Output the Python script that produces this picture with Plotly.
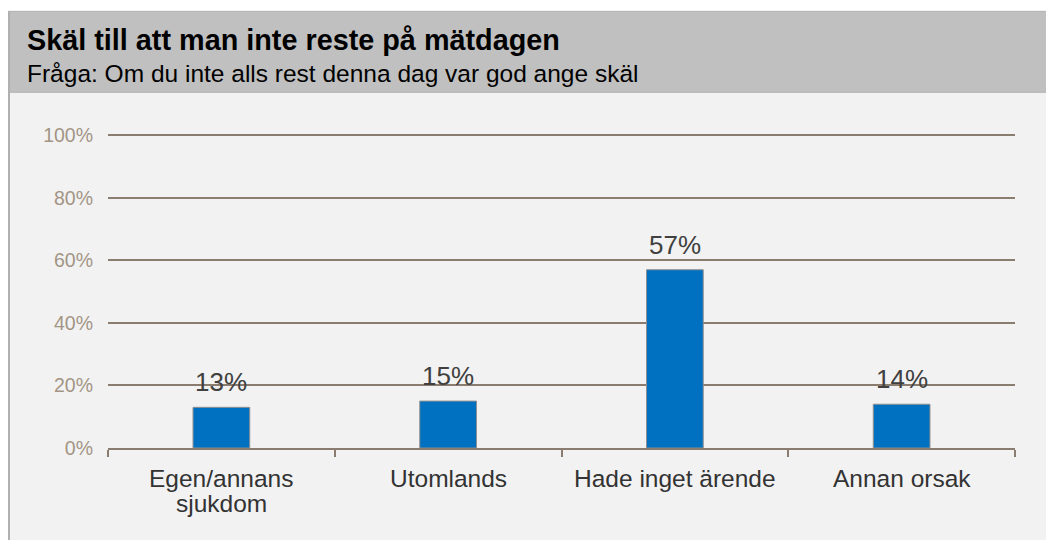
import plotly.graph_objects as go

categories = ["Egen/annans<br>sjukdom", "Utomlands", "Hade inget ärende", "Annan orsak"]
values = [13, 15, 57, 14]
value_labels = ["13%", "15%", "57%", "14%"]
y_ticks = [0, 20, 40, 60, 80, 100]
y_tick_labels = ["0%", "20%", "40%", "60%", "80%", "100%"]

title = "Skäl till att man inte reste på mätdagen"
subtitle = "Fråga: Om du inte alls rest denna dag var god ange skäl"

OFF = 8  # page offset of the figure
W, H = 1046, 532
YMAX = 102
# plot area in screen pixels (0% at SB, 100% at 135)
SL, SR, SB = 108, 1015, 448
unit = (SB - 135) / 100
ST = SB - unit * YMAX
L, R, T, B = SL - OFF, (W + OFF) - SR, ST - OFF, (H + OFF) - SB
pw, ph = SR - SL, SB - ST

def px(x):
    return (x - SL) / pw

def py(y):
    return (SB - y) / ph

GRID = "#8a7c6f"
FONT = "Liberation Sans, Arial, sans-serif"

fig = go.Figure()
fig.add_trace(go.Bar(
    x=categories, y=values, width=0.25,
    marker=dict(color="#0070C0", line=dict(color="#8f8f8f", width=1)),
    hoverinfo="skip",
))

for c, v, t in zip(categories, values, value_labels):
    fig.add_annotation(x=c, y=v, text=t, showarrow=False, yanchor="bottom",
                       yshift=8, font=dict(family=FONT, size=26, color="#404040"))

for c in categories:
    for i, line in enumerate(c.split("<br>")):
        fig.add_annotation(x=c, y=0, text=line, showarrow=False, yanchor="middle",
                           yshift=-(30 + 25 * i),
                           font=dict(family=FONT, size=24.5, color="#333333"))

shapes = [
    dict(type="rect", xref="paper", yref="paper", x0=px(8), x1=px(1060), y0=py(545), y1=py(92),
         fillcolor="#f2f2f2", line=dict(width=0), layer="below"),
    dict(type="rect", xref="paper", yref="paper", x0=px(8), x1=px(1060), y0=py(92), y1=py(11),
         fillcolor="#c0c0c0", line=dict(color="#b2b2b2", width=1), layer="below"),
    dict(type="line", xref="paper", yref="paper", x0=px(9), x1=px(9), y0=py(11), y1=py(545),
         line=dict(color="#b0b0b0", width=2), layer="below"),
]

fig.add_annotation(xref="paper", yref="paper", x=px(25), y=py(40), xanchor="left", yanchor="middle",
                   text="<b>" + title + "</b>", showarrow=False,
                   font=dict(family=FONT, size=28.8, color="#000000"))
fig.add_annotation(xref="paper", yref="paper", x=px(25), y=py(73), xanchor="left", yanchor="middle",
                   text=subtitle, showarrow=False,
                   font=dict(family=FONT, size=24.5, color="#000000"))

fig.update_layout(
    width=W, height=H,
    margin=dict(l=L, r=R, t=T, b=B),
    paper_bgcolor="white", plot_bgcolor="rgba(0,0,0,0)",
    shapes=shapes, showlegend=False, bargap=0.75,
    font=dict(family=FONT),
)
fig.update_xaxes(
    showline=True, linecolor=GRID, linewidth=2,
    ticks="outside", tickson="boundaries", ticklen=7, tickcolor=GRID, tickwidth=2,
    showticklabels=False,
    showgrid=False,
)
fig.update_yaxes(
    range=[0, YMAX], tickvals=y_ticks, ticktext=y_tick_labels,
    showgrid=True, gridcolor=GRID, gridwidth=2, zeroline=False,
    showline=False, ticks="", ticklabelstandoff=14,
    tickfont=dict(family=FONT, size=19.5, color="#a39585"),
)

fig.write_html("out.html")
